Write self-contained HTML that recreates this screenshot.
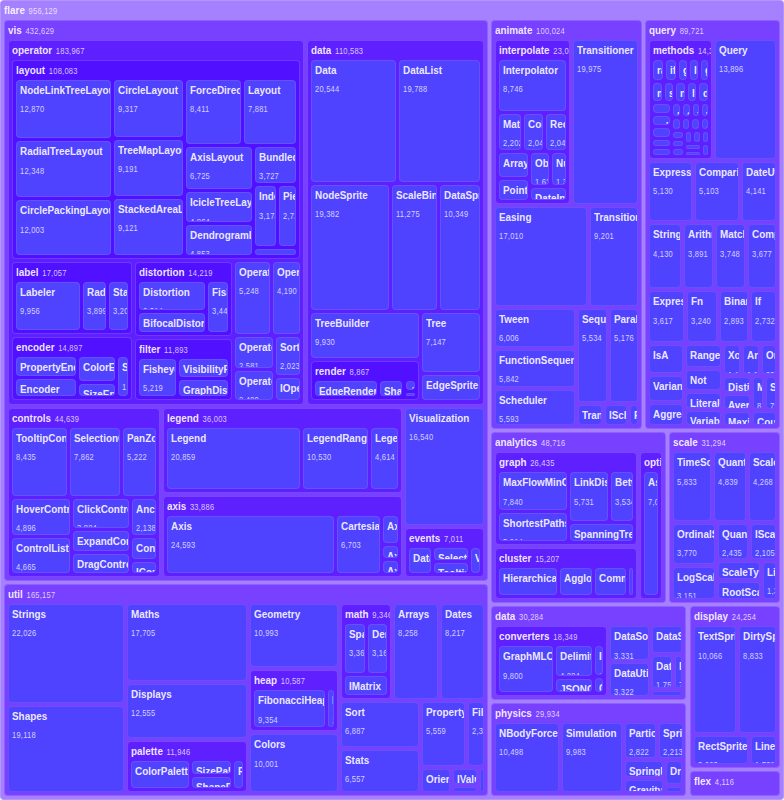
<!DOCTYPE html><html lang="en"><head><meta charset="utf-8"><title>flare treemap</title><style>
*{box-sizing:border-box;margin:0;padding:0}
html,body{width:784px;height:800px;background:#fff;overflow:hidden}
body{font-family:"Liberation Sans",sans-serif;position:relative}
.n{position:absolute;overflow:hidden;border:1px solid rgba(255,255,255,.17);border-radius:4px;white-space:nowrap}
.g0{background:#a580ff}.g1{background:#7840ff}.g2{background:#5f20ff}.g3{background:#5110ff}
.l{background:#5043ff;border-color:rgba(220,150,255,.17)}
.z{visibility:hidden}
.t{position:absolute;left:3px;top:1px;font-size:11px;line-height:16px;display:block;transform-origin:0 0;transform:scaleX(.9)}
.t b{font-size:11px;font-weight:700;color:rgba(255,255,255,.9)}
.t i{font-style:normal;font-size:8.4px;color:rgba(255,255,255,.76);margin-left:1px;letter-spacing:.25px}
.l .t i{display:block;margin-left:0;line-height:12px;margin-top:5.2px}
</style></head><body>
<div class="n g0" style="left:0px;top:0px;width:784px;height:800px"><span class="t"><b>flare</b> <i>956,129</i></span></div>
<div class="n g1" style="left:4px;top:20px;width:484.04px;height:560.78px"><span class="t"><b>vis</b> <i>432,629</i></span></div>
<div class="n g1" style="left:4px;top:583.78px;width:484.04px;height:212.22px"><span class="t"><b>util</b> <i>165,157</i></span></div>
<div class="n g1" style="left:491.04px;top:20px;width:150.91px;height:409.49px"><span class="t"><b>animate</b> <i>100,024</i></span></div>
<div class="n g1" style="left:644.95px;top:20px;width:135.05px;height:409.49px"><span class="t"><b>query</b> <i>89,721</i></span></div>
<div class="n g1" style="left:491.04px;top:432.49px;width:174.77px;height:170.93px"><span class="t"><b>analytics</b> <i>48,716</i></span></div>
<div class="n g1" style="left:668.81px;top:432.49px;width:111.19px;height:170.93px"><span class="t"><b>scale</b> <i>31,294</i></span></div>
<div class="n g1" style="left:491.04px;top:606.42px;width:195.46px;height:93.85px"><span class="t"><b>data</b> <i>30,284</i></span></div>
<div class="n g1" style="left:491.04px;top:703.27px;width:195.46px;height:92.73px"><span class="t"><b>physics</b> <i>29,934</i></span></div>
<div class="n g1" style="left:689.5px;top:606.42px;width:90.5px;height:161.64px"><span class="t"><b>display</b> <i>24,254</i></span></div>
<div class="n g1" style="left:689.5px;top:771.06px;width:90.5px;height:24.94px"><span class="t"><b>flex</b> <i>4,116</i></span></div>
<div class="n g2" style="left:8px;top:40px;width:296.2px;height:364.5px"><span class="t"><b>operator</b> <i>183,967</i></span></div>
<div class="n g2" style="left:307.2px;top:40px;width:176.85px;height:364.5px"><span class="t"><b>data</b> <i>110,583</i></span></div>
<div class="n g2" style="left:8px;top:407.5px;width:151.87px;height:169.28px"><span class="t"><b>controls</b> <i>44,639</i></span></div>
<div class="n g2" style="left:162.87px;top:407.5px;width:239.47px;height:85.75px"><span class="t"><b>legend</b> <i>36,003</i></span></div>
<div class="n g2" style="left:162.87px;top:496.25px;width:239.47px;height:80.53px"><span class="t"><b>axis</b> <i>33,886</i></span></div>
<div class="n l" style="left:405.34px;top:407.5px;width:78.71px;height:117.99px"><span class="t"><b>Visualization</b> <i>16,540</i></span></div>
<div class="n g2" style="left:405.34px;top:528.49px;width:78.71px;height:48.29px"><span class="t"><b>events</b> <i>7,011</i></span></div>
<div class="n l" style="left:8px;top:603.78px;width:116.34px;height:99.37px"><span class="t"><b>Strings</b> <i>22,026</i></span></div>
<div class="n l" style="left:8px;top:706.15px;width:116.34px;height:85.85px"><span class="t"><b>Shapes</b> <i>19,118</i></span></div>
<div class="n l" style="left:127.34px;top:603.78px;width:119.42px;height:77.22px"><span class="t"><b>Maths</b> <i>17,705</i></span></div>
<div class="n l" style="left:127.34px;top:683.99px;width:119.42px;height:53.88px"><span class="t"><b>Displays</b> <i>12,555</i></span></div>
<div class="n g2" style="left:127.34px;top:740.88px;width:119.42px;height:51.12px"><span class="t"><b>palette</b> <i>11,946</i></span></div>
<div class="n l" style="left:249.76px;top:603.78px;width:88.6px;height:63.56px"><span class="t"><b>Geometry</b> <i>10,993</i></span></div>
<div class="n g2" style="left:249.76px;top:670.34px;width:88.6px;height:61.1px"><span class="t"><b>heap</b> <i>10,587</i></span></div>
<div class="n l" style="left:249.76px;top:734.44px;width:88.6px;height:57.56px"><span class="t"><b>Colors</b> <i>10,001</i></span></div>
<div class="n g2" style="left:341.36px;top:603.78px;width:49.73px;height:95.31px"><span class="t"><b>math</b> <i>9,346</i></span></div>
<div class="n l" style="left:394.09px;top:603.78px;width:43.59px;height:95.31px"><span class="t"><b>Arrays</b> <i>8,258</i></span></div>
<div class="n l" style="left:440.68px;top:603.78px;width:43.36px;height:95.31px"><span class="t"><b>Dates</b> <i>8,217</i></span></div>
<div class="n l" style="left:341.36px;top:702.08px;width:77.25px;height:44.6px"><span class="t"><b>Sort</b> <i>6,887</i></span></div>
<div class="n l" style="left:341.36px;top:749.68px;width:77.25px;height:42.32px"><span class="t"><b>Stats</b> <i>6,557</i></span></div>
<div class="n l" style="left:421.61px;top:702.08px;width:43.14px;height:63.82px"><span class="t"><b>Property</b> <i>5,559</i></span></div>
<div class="n l" style="left:467.75px;top:702.08px;width:16.29px;height:63.82px"><span class="t"><b>Filter</b> <i>2,324</i></span></div>
<div class="n l" style="left:421.61px;top:768.91px;width:28.59px;height:23.09px"><span class="t"><b>Orientation</b> <i>1,486</i></span></div>
<div class="n l" style="left:453.2px;top:768.91px;width:23.72px;height:15.14px"><span class="t"><b>IValueProxy</b> <i>874</i></span></div>
<div class="n l" style="left:453.2px;top:787.05px;width:23.72px;height:4.95px"><span class="t"><b>IPredicate</b> <i>383</i></span></div>
<div class="n l" style="left:479.92px;top:768.91px;width:4.12px;height:23.09px"><span class="t"><b>IEvaluable</b> <i>335</i></span></div>
<div class="n g2" style="left:495.04px;top:40px;width:75.22px;height:164.23px"><span class="t"><b>interpolate</b> <i>23,081</i></span></div>
<div class="n l" style="left:573.26px;top:40px;width:64.69px;height:164.23px"><span class="t"><b>Transitioner</b> <i>19,975</i></span></div>
<div class="n l" style="left:495.04px;top:207.23px;width:91.69px;height:98.8px"><span class="t"><b>Easing</b> <i>17,010</i></span></div>
<div class="n l" style="left:589.73px;top:207.23px;width:48.22px;height:98.8px"><span class="t"><b>Transition</b> <i>9,201</i></span></div>
<div class="n l" style="left:495.04px;top:309.03px;width:79.74px;height:38.14px"><span class="t"><b>Tween</b> <i>6,006</i></span></div>
<div class="n l" style="left:495.04px;top:350.16px;width:79.74px;height:37.01px"><span class="t"><b>FunctionSequence</b> <i>5,842</i></span></div>
<div class="n l" style="left:495.04px;top:390.18px;width:79.74px;height:35.31px"><span class="t"><b>Scheduler</b> <i>5,593</i></span></div>
<div class="n l" style="left:577.78px;top:309.03px;width:29.64px;height:93.08px"><span class="t"><b>Sequence</b> <i>5,534</i></span></div>
<div class="n l" style="left:610.42px;top:309.03px;width:27.53px;height:93.08px"><span class="t"><b>Parallel</b> <i>5,176</i></span></div>
<div class="n l" style="left:577.78px;top:405.11px;width:24.05px;height:20.38px"><span class="t"><b>TransitionEvent</b> <i>1,116</i></span></div>
<div class="n l" style="left:604.83px;top:405.11px;width:22.23px;height:20.38px"><span class="t"><b>ISchedulable</b> <i>1,041</i></span></div>
<div class="n l" style="left:630.06px;top:405.11px;width:7.88px;height:20.38px"><span class="t"><b>Pause</b> <i>449</i></span></div>
<div class="n g2" style="left:648.95px;top:40px;width:63.02px;height:119.2px"><span class="t"><b>methods</b> <i>14,326</i></span></div>
<div class="n l" style="left:714.96px;top:40px;width:61.04px;height:119.2px"><span class="t"><b>Query</b> <i>13,896</i></span></div>
<div class="n l" style="left:648.95px;top:162.2px;width:43.41px;height:59.24px"><span class="t"><b>Expression</b> <i>5,130</i></span></div>
<div class="n l" style="left:695.36px;top:162.2px;width:43.17px;height:59.24px"><span class="t"><b>Comparison</b> <i>5,103</i></span></div>
<div class="n l" style="left:741.53px;top:162.2px;width:34.47px;height:59.24px"><span class="t"><b>DateUtil</b> <i>4,141</i></span></div>
<div class="n l" style="left:648.95px;top:224.44px;width:31.77px;height:63.88px"><span class="t"><b>StringUtil</b> <i>4,130</i></span></div>
<div class="n l" style="left:683.72px;top:224.44px;width:29.76px;height:63.88px"><span class="t"><b>Arithmetic</b> <i>3,891</i></span></div>
<div class="n l" style="left:716.48px;top:224.44px;width:28.56px;height:63.88px"><span class="t"><b>Match</b> <i>3,748</i></span></div>
<div class="n l" style="left:748.04px;top:224.44px;width:27.96px;height:63.88px"><span class="t"><b>CompositeExpression</b> <i>3,677</i></span></div>
<div class="n l" style="left:648.95px;top:291.32px;width:34.69px;height:51.05px"><span class="t"><b>ExpressionIterator</b> <i>3,617</i></span></div>
<div class="n l" style="left:686.63px;top:291.32px;width:30.76px;height:51.05px"><span class="t"><b>Fn</b> <i>3,240</i></span></div>
<div class="n l" style="left:720.39px;top:291.32px;width:27.14px;height:51.05px"><span class="t"><b>BinaryExpression</b> <i>2,893</i></span></div>
<div class="n l" style="left:750.53px;top:291.32px;width:25.47px;height:51.05px"><span class="t"><b>If</b> <i>2,732</i></span></div>
<div class="n l" style="left:648.95px;top:345.36px;width:34.47px;height:27.64px"><span class="t"><b>IsA</b> <i>2,039</i></span></div>
<div class="n l" style="left:648.95px;top:376.01px;width:34.47px;height:25.19px"><span class="t"><b>Variance</b> <i>1,876</i></span></div>
<div class="n l" style="left:648.95px;top:404.2px;width:34.47px;height:21.29px"><span class="t"><b>AggregateExpression</b> <i>1,616</i></span></div>
<div class="n l" style="left:686.42px;top:345.36px;width:34.17px;height:21.15px"><span class="t"><b>Range</b> <i>1,594</i></span></div>
<div class="n l" style="left:686.42px;top:369.52px;width:34.17px;height:20.55px"><span class="t"><b>Not</b> <i>1,554</i></span></div>
<div class="n l" style="left:686.42px;top:393.06px;width:34.17px;height:15.39px"><span class="t"><b>Literal</b> <i>1,214</i></span></div>
<div class="n l" style="left:686.42px;top:411.46px;width:34.17px;height:14.03px"><span class="t"><b>Variable</b> <i>1,124</i></span></div>
<div class="n l" style="left:723.58px;top:345.36px;width:16.69px;height:28.48px"><span class="t"><b>Xor</b> <i>1,101</i></span></div>
<div class="n l" style="left:743.28px;top:345.36px;width:15.37px;height:28.48px"><span class="t"><b>And</b> <i>1,027</i></span></div>
<div class="n l" style="left:761.65px;top:345.36px;width:14.35px;height:28.48px"><span class="t"><b>Or</b> <i>970</i></span></div>
<div class="n l" style="left:723.58px;top:376.84px;width:26.08px;height:15.07px"><span class="t"><b>Distinct</b> <i>933</i></span></div>
<div class="n l" style="left:723.58px;top:394.91px;width:26.08px;height:14.25px"><span class="t"><b>Average</b> <i>891</i></span></div>
<div class="n l" style="left:723.58px;top:412.16px;width:26.08px;height:13.32px"><span class="t"><b>Maximum</b> <i>843</i></span></div>
<div class="n l" style="left:752.67px;top:376.84px;width:10.59px;height:31.94px"><span class="t"><b>Minimum</b> <i>843</i></span></div>
<div class="n l" style="left:766.25px;top:376.84px;width:9.75px;height:31.94px"><span class="t"><b>Sum</b> <i>791</i></span></div>
<div class="n l" style="left:752.67px;top:411.79px;width:23.33px;height:13.7px"><span class="t"><b>Count</b> <i>781</i></span></div>
<div class="n g2" style="left:495.04px;top:452.49px;width:142.11px;height:92.18px"><span class="t"><b>graph</b> <i>26,435</i></span></div>
<div class="n g2" style="left:495.04px;top:547.67px;width:142.11px;height:51.75px"><span class="t"><b>cluster</b> <i>15,207</i></span></div>
<div class="n g2" style="left:640.16px;top:452.49px;width:21.65px;height:146.93px"><span class="t"><b>optimization</b> <i>7,074</i></span></div>
<div class="n l" style="left:672.81px;top:452.49px;width:38.46px;height:68.58px"><span class="t"><b>TimeScale</b> <i>5,833</i></span></div>
<div class="n l" style="left:714.27px;top:452.49px;width:31.4px;height:68.58px"><span class="t"><b>QuantitativeScale</b> <i>4,839</i></span></div>
<div class="n l" style="left:748.66px;top:452.49px;width:27.34px;height:68.58px"><span class="t"><b>Scale</b> <i>4,268</i></span></div>
<div class="n l" style="left:672.81px;top:524.07px;width:41.94px;height:39.68px"><span class="t"><b>OrdinalScale</b> <i>3,770</i></span></div>
<div class="n l" style="left:672.81px;top:566.75px;width:41.94px;height:32.67px"><span class="t"><b>LogScale</b> <i>3,151</i></span></div>
<div class="n l" style="left:717.75px;top:524.07px;width:29.85px;height:34.71px"><span class="t"><b>QuantileScale</b> <i>2,435</i></span></div>
<div class="n l" style="left:750.6px;top:524.07px;width:25.4px;height:34.71px"><span class="t"><b>IScaleMap</b> <i>2,105</i></span></div>
<div class="n l" style="left:717.75px;top:561.78px;width:41.78px;height:17.69px"><span class="t"><b>ScaleType</b> <i>1,821</i></span></div>
<div class="n l" style="left:717.75px;top:582.47px;width:41.78px;height:16.95px"><span class="t"><b>RootScale</b> <i>1,756</i></span></div>
<div class="n l" style="left:762.53px;top:561.78px;width:13.47px;height:37.64px"><span class="t"><b>LinearScale</b> <i>1,316</i></span></div>
<div class="n g2" style="left:495.04px;top:626.42px;width:112.4px;height:69.85px"><span class="t"><b>converters</b> <i>18,349</i></span></div>
<div class="n l" style="left:610.44px;top:626.42px;width:38.84px;height:33.47px"><span class="t"><b>DataSource</b> <i>3,331</i></span></div>
<div class="n l" style="left:610.44px;top:662.89px;width:38.84px;height:33.38px"><span class="t"><b>DataUtil</b> <i>3,322</i></span></div>
<div class="n l" style="left:652.28px;top:626.42px;width:30.22px;height:26.86px"><span class="t"><b>DataSchema</b> <i>2,165</i></span></div>
<div class="n l" style="left:652.28px;top:656.28px;width:20.09px;height:31.91px"><span class="t"><b>DataField</b> <i>1,759</i></span></div>
<div class="n l" style="left:675.37px;top:656.28px;width:7.13px;height:31.91px"><span class="t"><b>DataTable</b> <i>772</i></span></div>
<div class="n l" style="left:652.28px;top:691.19px;width:30.22px;height:5.08px"><span class="t"><b>DataSet</b> <i>586</i></span></div>
<div class="n l" style="left:495.04px;top:723.27px;width:63.79px;height:68.73px"><span class="t"><b>NBodyForce</b> <i>10,498</i></span></div>
<div class="n l" style="left:561.84px;top:723.27px;width:60.52px;height:68.73px"><span class="t"><b>Simulation</b> <i>9,983</i></span></div>
<div class="n l" style="left:625.36px;top:723.27px;width:30.71px;height:35.21px"><span class="t"><b>Particle</b> <i>2,822</i></span></div>
<div class="n l" style="left:659.07px;top:723.27px;width:23.44px;height:35.21px"><span class="t"><b>Spring</b> <i>2,213</i></span></div>
<div class="n l" style="left:625.36px;top:761.48px;width:38.07px;height:15.68px"><span class="t"><b>SpringForce</b> <i>1,681</i></span></div>
<div class="n l" style="left:625.36px;top:780.15px;width:38.07px;height:11.85px"><span class="t"><b>GravityForce</b> <i>1,336</i></span></div>
<div class="n l" style="left:666.43px;top:761.48px;width:16.07px;height:22.89px"><span class="t"><b>DragForce</b> <i>1,082</i></span></div>
<div class="n l" style="left:666.43px;top:787.37px;width:16.07px;height:4.63px"><span class="t"><b>IForce</b> <i>319</i></span></div>
<div class="n l" style="left:693.5px;top:626.42px;width:42.54px;height:106.59px"><span class="t"><b>TextSprite</b> <i>10,066</i></span></div>
<div class="n l" style="left:739.04px;top:626.42px;width:36.96px;height:106.59px"><span class="t"><b>DirtySprite</b> <i>8,833</i></span></div>
<div class="n l" style="left:693.5px;top:736.01px;width:54.85px;height:28.05px"><span class="t"><b>RectSprite</b> <i>3,623</i></span></div>
<div class="n l" style="left:751.35px;top:736.01px;width:24.65px;height:28.05px"><span class="t"><b>LineSprite</b> <i>1,732</i></span></div>
<div class="n l z" style="left:693.5px;top:791.06px;width:82.5px;height:0.94px"><span class="t"><b>FlareVis</b> <i>4,116</i></span></div>
<div class="n g3" style="left:12px;top:60px;width:288.2px;height:198.81px"><span class="t"><b>layout</b> <i>108,083</i></span></div>
<div class="n g3" style="left:12px;top:261.81px;width:119.62px;height:72.63px"><span class="t"><b>label</b> <i>17,057</i></span></div>
<div class="n g3" style="left:12px;top:337.44px;width:119.62px;height:63.06px"><span class="t"><b>encoder</b> <i>14,897</i></span></div>
<div class="n g3" style="left:134.62px;top:261.81px;width:97.2px;height:74.16px"><span class="t"><b>distortion</b> <i>14,219</i></span></div>
<div class="n g3" style="left:134.62px;top:338.97px;width:97.2px;height:61.53px"><span class="t"><b>filter</b> <i>11,893</i></span></div>
<div class="n l" style="left:234.82px;top:261.81px;width:35.02px;height:72.05px"><span class="t"><b>OperatorList</b> <i>5,248</i></span></div>
<div class="n l" style="left:272.84px;top:261.81px;width:27.35px;height:72.05px"><span class="t"><b>OperatorSequence</b> <i>4,190</i></span></div>
<div class="n l" style="left:234.82px;top:336.86px;width:38.38px;height:30.92px"><span class="t"><b>OperatorSwitch</b> <i>2,581</i></span></div>
<div class="n l" style="left:234.82px;top:370.78px;width:38.38px;height:29.72px"><span class="t"><b>Operator</b> <i>2,490</i></span></div>
<div class="n l" style="left:276.2px;top:336.86px;width:24px;height:37.74px"><span class="t"><b>SortOperator</b> <i>2,023</i></span></div>
<div class="n l" style="left:276.2px;top:377.6px;width:24px;height:22.9px"><span class="t"><b>IOperator</b> <i>1,286</i></span></div>
<div class="n l" style="left:311.2px;top:60px;width:84.53px;height:122.28px"><span class="t"><b>Data</b> <i>20,544</i></span></div>
<div class="n l" style="left:398.73px;top:60px;width:81.31px;height:122.28px"><span class="t"><b>DataList</b> <i>19,788</i></span></div>
<div class="n l" style="left:311.2px;top:185.28px;width:78.23px;height:124.38px"><span class="t"><b>NodeSprite</b> <i>19,382</i></span></div>
<div class="n l" style="left:392.42px;top:185.28px;width:44.25px;height:124.38px"><span class="t"><b>ScaleBinding</b> <i>11,275</i></span></div>
<div class="n l" style="left:439.67px;top:185.28px;width:40.37px;height:124.38px"><span class="t"><b>DataSprite</b> <i>10,349</i></span></div>
<div class="n l" style="left:311.2px;top:312.66px;width:107.45px;height:44.99px"><span class="t"><b>TreeBuilder</b> <i>9,930</i></span></div>
<div class="n g3" style="left:311.2px;top:360.65px;width:107.45px;height:39.85px"><span class="t"><b>render</b> <i>8,867</i></span></div>
<div class="n l" style="left:421.65px;top:312.66px;width:58.39px;height:59.14px"><span class="t"><b>Tree</b> <i>7,147</i></span></div>
<div class="n l" style="left:421.65px;top:374.8px;width:58.39px;height:25.7px"><span class="t"><b>EdgeSprite</b> <i>3,301</i></span></div>
<div class="n l" style="left:12px;top:427.5px;width:54.57px;height:68.48px"><span class="t"><b>TooltipControl</b> <i>8,435</i></span></div>
<div class="n l" style="left:69.57px;top:427.5px;width:50.66px;height:68.48px"><span class="t"><b>SelectionControl</b> <i>7,862</i></span></div>
<div class="n l" style="left:123.23px;top:427.5px;width:32.64px;height:68.48px"><span class="t"><b>PanZoomControl</b> <i>5,222</i></span></div>
<div class="n l" style="left:12px;top:498.98px;width:57.74px;height:36.33px"><span class="t"><b>HoverControl</b> <i>4,896</i></span></div>
<div class="n l" style="left:12px;top:538.31px;width:57.74px;height:34.47px"><span class="t"><b>ControlList</b> <i>4,665</i></span></div>
<div class="n l" style="left:72.74px;top:498.98px;width:56.11px;height:28.56px"><span class="t"><b>ClickControl</b> <i>3,824</i></span></div>
<div class="n l" style="left:72.74px;top:530.54px;width:56.11px;height:20.37px"><span class="t"><b>ExpandControl</b> <i>2,832</i></span></div>
<div class="n l" style="left:72.74px;top:553.91px;width:56.11px;height:18.86px"><span class="t"><b>DragControl</b> <i>2,649</i></span></div>
<div class="n l" style="left:131.84px;top:498.98px;width:24.02px;height:35.6px"><span class="t"><b>AnchorControl</b> <i>2,138</i></span></div>
<div class="n l" style="left:131.84px;top:537.58px;width:24.02px;height:21.43px"><span class="t"><b>Control</b> <i>1,353</i></span></div>
<div class="n l" style="left:131.84px;top:562px;width:24.02px;height:10.77px"><span class="t"><b>IControl</b> <i>763</i></span></div>
<div class="n l" style="left:166.87px;top:427.5px;width:132.84px;height:61.75px"><span class="t"><b>Legend</b> <i>20,859</i></span></div>
<div class="n l" style="left:302.71px;top:427.5px;width:65.58px;height:61.75px"><span class="t"><b>LegendRange</b> <i>10,530</i></span></div>
<div class="n l" style="left:371.29px;top:427.5px;width:27.05px;height:61.75px"><span class="t"><b>LegendItem</b> <i>4,614</i></span></div>
<div class="n l" style="left:166.87px;top:516.25px;width:167.17px;height:56.53px"><span class="t"><b>Axis</b> <i>24,593</i></span></div>
<div class="n l" style="left:337.03px;top:516.25px;width:43.38px;height:56.53px"><span class="t"><b>CartesianAxes</b> <i>6,703</i></span></div>
<div class="n l" style="left:383.41px;top:516.25px;width:14.92px;height:26.93px"><span class="t"><b>Axes</b> <i>1,302</i></span></div>
<div class="n l" style="left:383.41px;top:546.17px;width:14.92px;height:11.99px"><span class="t"><b>AxisGridLine</b> <i>652</i></span></div>
<div class="n l" style="left:383.41px;top:561.16px;width:14.92px;height:11.62px"><span class="t"><b>AxisLabel</b> <i>636</i></span></div>
<div class="n l" style="left:409.34px;top:548.49px;width:21.32px;height:24.29px"><span class="t"><b>DataEvent</b> <i>2,313</i></span></div>
<div class="n l" style="left:433.65px;top:548.49px;width:34.65px;height:11.32px"><span class="t"><b>SelectionEvent</b> <i>1,880</i></span></div>
<div class="n l" style="left:433.65px;top:562.82px;width:34.65px;height:9.96px"><span class="t"><b>TooltipEvent</b> <i>1,701</i></span></div>
<div class="n l" style="left:471.3px;top:548.49px;width:8.74px;height:24.29px"><span class="t"><b>VisualizationEvent</b> <i>1,117</i></span></div>
<div class="n l" style="left:131.34px;top:760.88px;width:57.98px;height:27.12px"><span class="t"><b>ColorPalette</b> <i>6,367</i></span></div>
<div class="n l" style="left:192.32px;top:760.88px;width:38.66px;height:12.87px"><span class="t"><b>SizePalette</b> <i>2,291</i></span></div>
<div class="n l" style="left:192.32px;top:776.74px;width:38.66px;height:11.26px"><span class="t"><b>ShapePalette</b> <i>2,059</i></span></div>
<div class="n l" style="left:233.99px;top:760.88px;width:8.77px;height:27.12px"><span class="t"><b>Palette</b> <i>1,229</i></span></div>
<div class="n l" style="left:253.76px;top:690.34px;width:70.87px;height:37.1px"><span class="t"><b>FibonacciHeap</b> <i>9,354</i></span></div>
<div class="n l" style="left:327.62px;top:690.34px;width:6.74px;height:37.1px"><span class="t"><b>HeapNode</b> <i>1,233</i></span></div>
<div class="n l" style="left:345.36px;top:623.78px;width:20.05px;height:48.93px"><span class="t"><b>SparseMatrix</b> <i>3,366</i></span></div>
<div class="n l" style="left:368.41px;top:623.78px;width:18.68px;height:48.93px"><span class="t"><b>DenseMatrix</b> <i>3,165</i></span></div>
<div class="n l" style="left:345.36px;top:675.7px;width:41.73px;height:19.38px"><span class="t"><b>IMatrix</b> <i>2,815</i></span></div>
<div class="n l" style="left:499.04px;top:60px;width:67.22px;height:51.27px"><span class="t"><b>Interpolator</b> <i>8,746</i></span></div>
<div class="n l" style="left:499.04px;top:114.27px;width:21.58px;height:36.04px"><span class="t"><b>MatrixInterpolator</b> <i>2,202</i></span></div>
<div class="n l" style="left:523.62px;top:114.27px;width:19.85px;height:36.04px"><span class="t"><b>ColorInterpolator</b> <i>2,047</i></span></div>
<div class="n l" style="left:546.47px;top:114.27px;width:19.79px;height:36.04px"><span class="t"><b>RectangleInterpolator</b> <i>2,042</i></span></div>
<div class="n l" style="left:499.04px;top:153.31px;width:28.93px;height:24.06px"><span class="t"><b>ArrayInterpolator</b> <i>1,983</i></span></div>
<div class="n l" style="left:499.04px;top:180.37px;width:28.93px;height:19.86px"><span class="t"><b>PointInterpolator</b> <i>1,675</i></span></div>
<div class="n l" style="left:530.97px;top:153.31px;width:17.71px;height:31.27px"><span class="t"><b>ObjectInterpolator</b> <i>1,629</i></span></div>
<div class="n l" style="left:551.69px;top:153.31px;width:14.57px;height:31.27px"><span class="t"><b>NumberInterpolator</b> <i>1,382</i></span></div>
<div class="n l" style="left:530.97px;top:187.58px;width:35.29px;height:12.65px"><span class="t"><b>DateInterpolator</b> <i>1,375</i></span></div>
<div class="n l" style="left:652.95px;top:60px;width:10.3px;height:20.08px"><span class="t"><b>range</b> <i>772</i></span></div>
<div class="n l" style="left:666.25px;top:60px;width:9.89px;height:20.08px"><span class="t"><b>iff</b> <i>748</i></span></div>
<div class="n l" style="left:679.14px;top:60px;width:7.77px;height:20.08px"><span class="t"><b>gte</b> <i>625</i></span></div>
<div class="n l" style="left:689.91px;top:60px;width:7.67px;height:20.08px"><span class="t"><b>lte</b> <i>619</i></span></div>
<div class="n l" style="left:700.57px;top:60px;width:7.39px;height:20.08px"><span class="t"><b>gt</b> <i>603</i></span></div>
<div class="n l" style="left:652.95px;top:83.08px;width:8.68px;height:17.52px"><span class="t"><b>mul</b> <i>603</i></span></div>
<div class="n l" style="left:664.63px;top:83.08px;width:8.63px;height:17.52px"><span class="t"><b>sub</b> <i>600</i></span></div>
<div class="n l" style="left:676.26px;top:83.08px;width:8.61px;height:17.52px"><span class="t"><b>neq</b> <i>599</i></span></div>
<div class="n l" style="left:687.87px;top:83.08px;width:8.57px;height:17.52px"><span class="t"><b>lt</b> <i>597</i></span></div>
<div class="n l" style="left:699.43px;top:83.08px;width:8.53px;height:17.52px"><span class="t"><b>div</b> <i>595</i></span></div>
<div class="n l" style="left:652.95px;top:103.6px;width:16.66px;height:9.02px"><span class="t"><b>eq</b> <i>594</i></span></div>
<div class="n l" style="left:652.95px;top:115.62px;width:16.66px;height:9px"><span class="t"><b>add</b> <i>593</i></span></div>
<div class="n l" style="left:652.95px;top:127.61px;width:16.66px;height:8.96px"><span class="t"><b>mod</b> <i>591</i></span></div>
<div class="n l" style="left:652.95px;top:139.57px;width:16.66px;height:6.33px"><span class="t"><b>isa</b> <i>461</i></span></div>
<div class="n l" style="left:652.95px;top:148.89px;width:16.66px;height:6.31px"><span class="t"><b>fn</b> <i>460</i></span></div>
<div class="n l" style="left:672.61px;top:103.6px;width:7.3px;height:11.91px"><span class="t"><b>not</b> <i>386</i></span></div>
<div class="n l" style="left:682.9px;top:103.6px;width:6.68px;height:11.91px"><span class="t"><b>stddev</b> <i>363</i></span></div>
<div class="n l" style="left:692.59px;top:103.6px;width:6.44px;height:11.91px"><span class="t"><b>xor</b> <i>354</i></span></div>
<div class="n l" style="left:702.03px;top:103.6px;width:5.94px;height:11.91px"><span class="t"><b>variance</b> <i>335</i></span></div>
<div class="n l" style="left:672.61px;top:118.51px;width:6.99px;height:10.14px"><span class="t"><b>and</b> <i>330</i></span></div>
<div class="n l" style="left:682.6px;top:118.51px;width:6.78px;height:10.14px"><span class="t"><b>or</b> <i>323</i></span></div>
<div class="n l" style="left:692.38px;top:118.51px;width:6.29px;height:10.14px"><span class="t"><b>orderby</b> <i>307</i></span></div>
<div class="n l" style="left:701.67px;top:118.51px;width:6.29px;height:10.14px"><span class="t"><b>update</b> <i>307</i></span></div>
<div class="n l" style="left:672.61px;top:131.65px;width:10.29px;height:5.95px"><span class="t"><b>where</b> <i>299</i></span></div>
<div class="n l" style="left:672.61px;top:140.6px;width:10.29px;height:5.86px"><span class="t"><b>select</b> <i>296</i></span></div>
<div class="n l" style="left:672.61px;top:149.46px;width:10.29px;height:5.74px"><span class="t"><b>distinct</b> <i>292</i></span></div>
<div class="n l" style="left:685.89px;top:131.65px;width:5.44px;height:10.53px"><span class="t"><b>average</b> <i>287</i></span></div>
<div class="n l" style="left:694.33px;top:131.65px;width:5.32px;height:10.53px"><span class="t"><b>max</b> <i>283</i></span></div>
<div class="n l" style="left:702.65px;top:131.65px;width:5.32px;height:10.53px"><span class="t"><b>min</b> <i>283</i></span></div>
<div class="n l" style="left:685.89px;top:145.18px;width:14.01px;height:3.55px"><span class="t"><b>sum</b> <i>280</i></span></div>
<div class="n l" style="left:685.89px;top:151.72px;width:14.01px;height:3.48px"><span class="t"><b>count</b> <i>277</i></span></div>
<div class="n l" style="left:702.9px;top:145.18px;width:5.06px;height:10.02px"><span class="t"><b>_</b> <i>264</i></span></div>
<div class="n l" style="left:499.04px;top:472.49px;width:68.34px;height:37.57px"><span class="t"><b>MaxFlowMinCut</b> <i>7,840</i></span></div>
<div class="n l" style="left:499.04px;top:513.06px;width:68.34px;height:27.61px"><span class="t"><b>ShortestPaths</b> <i>5,914</i></span></div>
<div class="n l" style="left:570.38px;top:472.49px;width:37.69px;height:49.01px"><span class="t"><b>LinkDistance</b> <i>5,731</i></span></div>
<div class="n l" style="left:611.07px;top:472.49px;width:22.09px;height:49.01px"><span class="t"><b>BetweennessCentrality</b> <i>3,534</i></span></div>
<div class="n l" style="left:570.38px;top:524.49px;width:62.77px;height:16.17px"><span class="t"><b>SpanningTree</b> <i>3,416</i></span></div>
<div class="n l" style="left:499.04px;top:567.67px;width:57.54px;height:27.75px"><span class="t"><b>HierarchicalCluster</b> <i>6,714</i></span></div>
<div class="n l" style="left:559.58px;top:567.67px;width:32.51px;height:27.75px"><span class="t"><b>AgglomerativeCluster</b> <i>3,938</i></span></div>
<div class="n l" style="left:595.09px;top:567.67px;width:31.37px;height:27.75px"><span class="t"><b>CommunityStructure</b> <i>3,812</i></span></div>
<div class="n l" style="left:629.46px;top:567.67px;width:3.7px;height:27.75px"><span class="t"><b>MergeEdge</b> <i>743</i></span></div>
<div class="n l" style="left:644.16px;top:472.49px;width:13.65px;height:122.93px"><span class="t"><b>AspectRatioBanker</b> <i>7,074</i></span></div>
<div class="n l" style="left:499.04px;top:646.42px;width:54.36px;height:45.85px"><span class="t"><b>GraphMLConverter</b> <i>9,800</i></span></div>
<div class="n l" style="left:556.4px;top:646.42px;width:35.13px;height:29.2px"><span class="t"><b>DelimitedTextConverter</b> <i>4,294</i></span></div>
<div class="n l" style="left:556.4px;top:678.62px;width:35.13px;height:13.65px"><span class="t"><b>JSONConverter</b> <i>2,220</i></span></div>
<div class="n l" style="left:594.53px;top:646.42px;width:8.91px;height:28.54px"><span class="t"><b>IDataConverter</b> <i>1,314</i></span></div>
<div class="n l" style="left:594.53px;top:677.96px;width:8.91px;height:14.31px"><span class="t"><b>Converters</b> <i>721</i></span></div>
<div class="n l" style="left:16px;top:80px;width:94.53px;height:58.48px"><span class="t"><b>NodeLinkTreeLayout</b> <i>12,870</i></span></div>
<div class="n l" style="left:16px;top:141.48px;width:94.53px;height:55.99px"><span class="t"><b>RadialTreeLayout</b> <i>12,348</i></span></div>
<div class="n l" style="left:16px;top:200.47px;width:94.53px;height:54.34px"><span class="t"><b>CirclePackingLayout</b> <i>12,003</i></span></div>
<div class="n l" style="left:113.53px;top:80px;width:69.39px;height:56.96px"><span class="t"><b>CircleLayout</b> <i>9,317</i></span></div>
<div class="n l" style="left:113.53px;top:139.96px;width:69.39px;height:56.15px"><span class="t"><b>TreeMapLayout</b> <i>9,191</i></span></div>
<div class="n l" style="left:113.53px;top:199.11px;width:69.39px;height:55.7px"><span class="t"><b>StackedAreaLayout</b> <i>9,121</i></span></div>
<div class="n l" style="left:185.92px;top:80px;width:55.48px;height:64.01px"><span class="t"><b>ForceDirectedLayout</b> <i>8,411</i></span></div>
<div class="n l" style="left:244.4px;top:80px;width:51.8px;height:64.01px"><span class="t"><b>Layout</b> <i>7,881</i></span></div>
<div class="n l" style="left:185.92px;top:147.01px;width:66.13px;height:42.32px"><span class="t"><b>AxisLayout</b> <i>6,725</i></span></div>
<div class="n l" style="left:185.92px;top:192.33px;width:66.13px;height:29.78px"><span class="t"><b>IcicleTreeLayout</b> <i>4,864</i></span></div>
<div class="n l" style="left:185.92px;top:225.11px;width:66.13px;height:29.7px"><span class="t"><b>DendrogramLayout</b> <i>4,853</i></span></div>
<div class="n l" style="left:255.05px;top:147.01px;width:41.14px;height:36.33px"><span class="t"><b>BundledEdgeRouter</b> <i>3,727</i></span></div>
<div class="n l" style="left:255.05px;top:186.34px;width:20.74px;height:59.29px"><span class="t"><b>IndentedTreeLayout</b> <i>3,174</i></span></div>
<div class="n l" style="left:278.79px;top:186.34px;width:17.4px;height:59.29px"><span class="t"><b>PieLayout</b> <i>2,728</i></span></div>
<div class="n l" style="left:255.05px;top:248.63px;width:41.14px;height:6.18px"><span class="t"><b>RandomLayout</b> <i>870</i></span></div>
<div class="n l" style="left:16px;top:281.81px;width:63.9px;height:48.63px"><span class="t"><b>Labeler</b> <i>9,956</i></span></div>
<div class="n l" style="left:82.9px;top:281.81px;width:23.2px;height:48.63px"><span class="t"><b>RadialLabeler</b> <i>3,899</i></span></div>
<div class="n l" style="left:109.1px;top:281.81px;width:18.52px;height:48.63px"><span class="t"><b>StackedAreaLabeler</b> <i>3,202</i></span></div>
<div class="n l" style="left:16px;top:357.44px;width:60.08px;height:18.23px"><span class="t"><b>PropertyEncoder</b> <i>4,138</i></span></div>
<div class="n l" style="left:16px;top:378.67px;width:60.08px;height:17.83px"><span class="t"><b>Encoder</b> <i>4,060</i></span></div>
<div class="n l" style="left:79.08px;top:357.44px;width:35.54px;height:23.69px"><span class="t"><b>ColorEncoder</b> <i>3,179</i></span></div>
<div class="n l" style="left:79.08px;top:384.14px;width:35.54px;height:12.36px"><span class="t"><b>SizeEncoder</b> <i>1,830</i></span></div>
<div class="n l" style="left:117.62px;top:357.44px;width:10px;height:39.06px"><span class="t"><b>ShapeEncoder</b> <i>1,690</i></span></div>
<div class="n l" style="left:138.62px;top:281.81px;width:66.87px;height:28.15px"><span class="t"><b>Distortion</b> <i>6,314</i></span></div>
<div class="n l" style="left:138.62px;top:312.96px;width:66.87px;height:19.01px"><span class="t"><b>BifocalDistortion</b> <i>4,461</i></span></div>
<div class="n l" style="left:208.49px;top:281.81px;width:19.33px;height:50.16px"><span class="t"><b>FisheyeDistortion</b> <i>3,444</i></span></div>
<div class="n l" style="left:138.62px;top:358.97px;width:37.46px;height:37.53px"><span class="t"><b>FisheyeTreeFilter</b> <i>5,219</i></span></div>
<div class="n l" style="left:179.08px;top:358.97px;width:48.74px;height:18.31px"><span class="t"><b>VisibilityFilter</b> <i>3,509</i></span></div>
<div class="n l" style="left:179.08px;top:380.28px;width:48.74px;height:16.22px"><span class="t"><b>GraphDistanceFilter</b> <i>3,165</i></span></div>
<div class="n l" style="left:315.2px;top:380.65px;width:61.35px;height:15.85px"><span class="t"><b>EdgeRenderer</b> <i>5,569</i></span></div>
<div class="n l" style="left:379.54px;top:380.65px;width:22.96px;height:15.85px"><span class="t"><b>ShapeRenderer</b> <i>2,247</i></span></div>
<div class="n l" style="left:405.5px;top:380.65px;width:9.14px;height:9.52px"><span class="t"><b>ArrowType</b> <i>698</i></span></div>
<div class="n l" style="left:405.5px;top:393.17px;width:9.14px;height:3.33px"><span class="t"><b>IRenderer</b> <i>353</i></span></div>
</body></html>
